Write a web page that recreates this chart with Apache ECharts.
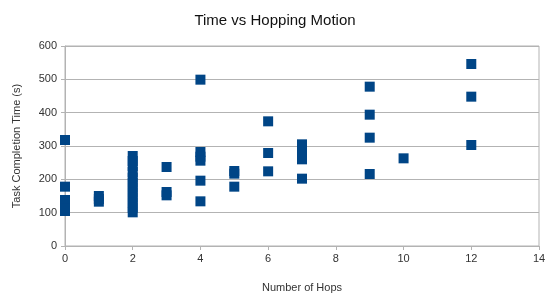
<!DOCTYPE html>
<html>
<head>
<meta charset="utf-8">
<script src="https://cdn.jsdelivr.net/npm/echarts@6/dist/echarts.min.js"></script>
<style>
  html, body { margin: 0; padding: 0; background: #fff; }
  #chart { width: 550px; height: 298px; }
</style>
</head>
<body>
<div id="chart"></div>
<script>
  // hops (x) and task completion time in seconds (y)
  const hops = [
    0, 0, 0, 0, 0, 0, 0,
    1, 1, 1,
    2, 2, 2, 2, 2, 2, 2, 2, 2, 2, 2, 2,
    3, 3, 3,
    4, 4, 4, 4, 4, 4,
    5, 5, 5,
    6, 6, 6,
    7, 7, 7, 7, 7,
    9, 9, 9, 9,
    10,
    12, 12, 12
  ];
  const times = [
    318, 178, 138, 130, 120, 112, 105,
    150, 141, 133,
    270, 255, 240, 222, 205, 190, 175, 160, 145, 130, 115, 101,
    237, 162, 152,
    499, 282, 268, 256, 196, 134,
    225, 217, 178,
    374, 279, 224,
    305, 290, 275, 260, 202,
    478, 394, 325, 216,
    263,
    546, 448, 303
  ];
  const xTicks = { min: 0, max: 14, step: 2 };
  const yTicks = { min: 0, max: 600, step: 100 };

  const points = hops.map((h, i) => [h, times[i]]);

  const font = 'Liberation Sans';
  const textColor = '#333';
  const chart = echarts.init(document.getElementById('chart'));
  chart.setOption({
    animation: false,
    title: {
      text: 'Time vs Hopping Motion',
      left: 'center',
      top: 8,
      textStyle: { fontFamily: font, fontSize: 15, fontWeight: 'normal', color: '#111' }
    },
    grid: {
      left: 65, right: 11, top: 46, bottom: 50,
      show: true, borderColor: '#b3b3b3', borderWidth: 1
    },
    xAxis: {
      type: 'value',
      min: xTicks.min, max: xTicks.max, interval: xTicks.step,
      name: 'Number of Hops',
      nameLocation: 'middle',
      nameGap: 36,
      nameTextStyle: { fontFamily: font, fontSize: 11, color: textColor },
      axisLine: { lineStyle: { color: '#b3b3b3' } },
      axisTick: { show: true, length: 4, lineStyle: { color: '#b3b3b3' } },
      axisLabel: { fontFamily: font, fontSize: 11, color: textColor, margin: 7 },
      splitLine: { show: false }
    },
    yAxis: {
      type: 'value',
      min: yTicks.min, max: yTicks.max, interval: yTicks.step,
      name: 'Task Completion Time (s)',
      nameLocation: 'middle',
      nameGap: 43,
      nameTextStyle: { fontFamily: font, fontSize: 11, color: textColor },
      axisLine: { show: true, lineStyle: { color: '#b3b3b3' } },
      axisTick: { show: true, length: 4, lineStyle: { color: '#b3b3b3' } },
      axisLabel: { fontFamily: font, fontSize: 11, color: textColor, margin: 8 },
      splitLine: { lineStyle: { color: '#b3b3b3' } }
    },
    series: [{
      type: 'scatter',
      symbol: 'rect',
      symbolSize: 10,
      itemStyle: { color: '#004586', opacity: 1 },
      data: points
    }]
  });
</script>
</body>
</html>
